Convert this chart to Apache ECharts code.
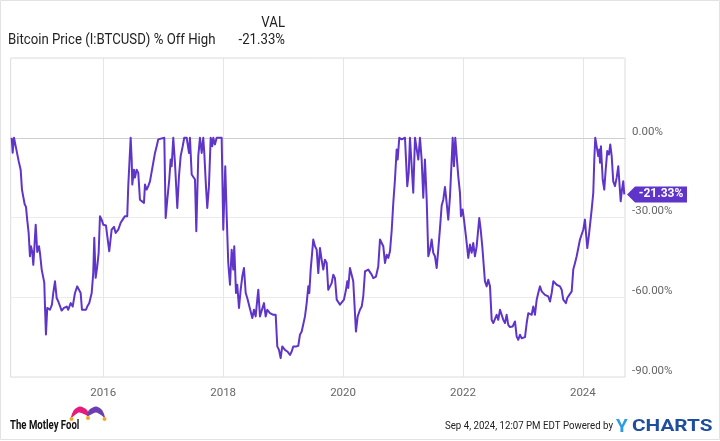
<!DOCTYPE html>
<html>
<head>
<meta charset="utf-8">
<script src="https://cdn.jsdelivr.net/npm/echarts@6/dist/echarts.min.js"></script>
<style>
html,body{margin:0;padding:0;background:#fff;}
#chart{width:720px;height:441px;}
</style>
</head>
<body>
<div id="chart"></div>
<script>
// Dates as decimal years
const dates = [
2014.472,2014.489,2014.511,2014.544,2014.566,2014.589,2014.611,2014.622,2014.644,2014.666,2014.689,2014.711,2014.732,2014.756,2014.777,2014.794,2014.816,2014.833,2014.849,2014.873,2014.899,2014.928,2014.944,2014.973,2014.999,
2015.016,2015.028,2015.044,2015.066,2015.094,2015.111,2015.144,2015.166,2015.195,2015.223,2015.250,2015.278,2015.306,2015.345,2015.390,2015.416,2015.456,2015.490,2015.528,2015.566,2015.595,2015.623,2015.645,2015.678,2015.712,2015.733,2015.767,2015.807,2015.833,2015.850,2015.873,2015.900,2015.923,2015.945,2015.973,
2016.000,2016.045,2016.067,2016.100,2016.140,2016.179,2016.207,2016.250,2016.290,2016.324,2016.362,2016.400,2016.417,2016.457,2016.474,2016.484,2016.512,2016.529,2016.557,2016.584,2016.612,2016.641,2016.679,2016.696,2016.724,2016.751,2016.779,2016.808,2016.834,2016.863,2016.891,2016.918,2016.946,
2017.018,2017.041,2017.068,2017.101,2017.124,2017.141,2017.168,2017.196,2017.235,2017.263,2017.291,2017.325,2017.351,2017.391,2017.430,2017.446,2017.475,2017.501,2017.530,2017.552,2017.585,2017.613,2017.642,2017.668,2017.685,2017.713,2017.735,2017.763,2017.792,2017.818,2017.835,2017.863,2017.892,2017.975,
2018.002,2018.035,2018.059,2018.085,2018.114,2018.142,2018.169,2018.185,2018.214,2018.235,2018.264,2018.292,2018.319,2018.347,2018.376,2018.402,2018.431,2018.459,2018.486,2018.514,2018.542,2018.569,2018.586,2018.614,2018.647,2018.681,2018.709,2018.736,2018.781,2018.809,2018.836,2018.876,2018.903,2018.931,2018.959,2018.986,
2019.031,2019.070,2019.115,2019.143,2019.170,2019.215,2019.253,2019.281,2019.310,2019.336,2019.365,2019.393,2019.420,2019.437,2019.460,2019.477,2019.503,2019.532,2019.560,2019.587,2019.615,2019.643,2019.670,2019.698,2019.727,2019.753,2019.782,2019.810,2019.837,2019.865,2019.894,2019.920,2019.949,2019.977,
2020.015,2020.049,2020.070,2020.087,2020.115,2020.144,2020.170,2020.187,2020.215,2020.244,2020.282,2020.311,2020.337,2020.366,2020.394,2020.421,2020.449,2020.477,2020.504,2020.549,2020.587,2020.616,2020.644,2020.671,2020.699,2020.728,2020.754,2020.783,2020.811,2020.838,2020.866,2020.894,2020.911,2020.938,2020.978,
2021.033,2021.071,2021.095,2021.116,2021.145,2021.171,2021.200,2021.228,2021.255,2021.283,2021.311,2021.338,2021.366,2021.395,2021.422,2021.450,2021.478,2021.505,2021.533,2021.562,2021.588,2021.617,2021.645,2021.672,2021.700,2021.728,2021.755,2021.784,2021.812,2021.829,2021.850,2021.872,2021.895,2021.922,2021.950,2021.967,2021.995,
2022.017,2022.050,2022.089,2022.117,2022.145,2022.172,2022.200,2022.229,2022.272,2022.296,2022.322,2022.339,2022.367,2022.396,2022.422,2022.451,2022.479,2022.506,2022.534,2022.562,2022.589,2022.618,2022.646,2022.673,2022.701,2022.729,2022.756,2022.784,2022.829,2022.868,2022.896,2022.923,2022.951,2022.980,
2023.006,2023.035,2023.063,2023.090,2023.118,2023.146,2023.173,2023.201,2023.230,2023.256,2023.285,2023.313,2023.340,2023.368,2023.397,2023.423,2023.452,2023.480,2023.507,2023.535,2023.563,2023.590,2023.618,2023.647,2023.673,2023.702,2023.718,2023.740,2023.774,2023.814,2023.840,2023.869,2023.897,2023.924,2023.952,2023.980,
2024.007,2024.035,2024.052,2024.074,2024.102,2024.131,2024.147,2024.174,2024.191,2024.207,2024.231,2024.257,2024.274,2024.286,2024.302,2024.331,2024.357,2024.381,2024.407,2024.436,2024.457,2024.481,2024.507,2024.536,2024.564,2024.591,2024.608,2024.631,2024.653,2024.674,2024.691
];
// Bitcoin price % off high (percent)
const pctOffHigh = [
0,-5.6,0,-3.7,-3.3,-8.8,-8.2,-12,-19.5,-20,-25,-26,-31,-36,-44.6,-40.8,-43,-47.8,-42,-32.7,-43,-40.8,-43.3,-49.6,-50.3,
-54.5,-63.5,-74,-64,-63.5,-64.7,-62.8,-58.4,-54,-60.3,-61.6,-62.2,-65,-64,-63.5,-64.7,-62.2,-63.5,-58.4,-55.9,-55.3,-58.4,-64.7,-64,-64.7,-63.5,-62.2,-58.4,-50.9,-37.6,-52.7,-48.4,-43.3,-29.5,-30.8,
-32.7,-33,-37,-42.7,-34.6,-33.5,-35.8,-34.6,-32,-30.8,-29.5,-29.5,-18.2,0,-8.2,-17.6,-12,-15,-12,-13.2,-23.3,-23.9,-24.5,-17.6,-19.5,-18.2,-16.4,-15.7,-9.4,-5.7,-3.2,-0.6,0,
0,-30.2,-23.3,-15.7,-8.2,-10.7,0,-9.4,-26.4,-14.5,-6.9,-3.2,0,0,-5.7,0,-13.8,-14.5,-15.7,-35.2,-6.9,0,-5.7,0,-5.7,-18.2,-26.4,-18.2,0,-3.2,0,-2.5,0,0,
-34.6,-10.7,-29.5,-47.1,-55.3,-42.1,-49.6,-40.8,-58.4,-55.3,-64,-57.2,-52.2,-49,-58.4,-60.3,-60.9,-65.4,-67.8,-64.7,-67.2,-60.9,-57.2,-67.2,-64.7,-62.2,-67.2,-64.7,-66,-65.4,-66.6,-66.6,-78.5,-79.8,-82.9,-78.5,
-79.8,-80.4,-81.7,-80.4,-78.5,-78.5,-78.3,-74.1,-72.9,-72.3,-67.2,-62.2,-55.9,-58.4,-49.6,-45.2,-38.3,-40.8,-42.1,-50.9,-41.5,-45.9,-49.6,-45.9,-47.1,-57.2,-57.8,-54.7,-51.5,-52.8,-60.9,-61.6,-62.8,-62.2,
-60.9,-57.2,-54,-56.5,-49,-48.4,-54,-53.4,-72.9,-67.2,-64.7,-63.5,-59.7,-50.3,-50.9,-49.6,-50.3,-51.5,-52.8,-52.2,-48.4,-38.3,-38.6,-40.8,-47.1,-44,-45.2,-42.7,-35,-24.5,-15.7,-4.4,-8.2,0,-0.6,
0,-18.2,-13.2,0,0,-20.7,0,0,-8.2,0,-8.2,-22.6,-8.2,-23.3,-44.6,-42.1,-38.3,-43.3,-44.6,-49,-42.1,-34,-25.5,-23.3,-18.5,-24.5,-30.8,-22,-8.2,0,-10.7,0,-6.9,-14.5,-20.7,-29.5,-27,
-30.8,-37.1,-45.2,-40.2,-43.3,-39.6,-44.6,-40.8,-30.2,-34.6,-40.8,-41.5,-54,-55.9,-53.4,-55.9,-68.5,-69.7,-69.1,-66.6,-68.5,-64.7,-64,-68.5,-69.7,-66.6,-70.4,-71.2,-71,-69.1,-74.8,-76,-74.1,-75.4,
-74.8,-75,-69.7,-66,-65.4,-66.6,-63.5,-66.6,-60.9,-58.4,-55.9,-57.8,-58.4,-59.1,-58.4,-59.7,-61.6,-58.4,-54,-54.7,-55.3,-55.9,-55.9,-57.2,-60.9,-60.9,-62.2,-60.3,-59.1,-57.8,-49.6,-47.1,-44.6,-44,-38.3,-36.4,
-34.6,-30.8,-35.8,-41.5,-36.4,-37.1,-27,-20.7,-8.2,0,-0.6,-6.9,-4.4,-9.4,-3.2,-15.7,-19.5,-12,-5,-6.3,-2.5,-6.9,-16.4,-18.2,-15,-10.7,-11.3,-23.9,-19.5,-16.4,-21.33
];
const xTickYears = [2016, 2018, 2020, 2022, 2024];
const yMin = -90, yMax = 30, yStep = 30;
const xMin = 2014.456, xMax = 2024.703;

const seriesName = 'Bitcoin Price (I:BTCUSD) % Off High';
const lastIdx = pctOffHigh.length - 1;
const lastVal = pctOffHigh[lastIdx];
const lastText = lastVal.toFixed(2) + '%';
const purple = '#5f35c9';

const chart = echarts.init(document.getElementById('chart'), null, {renderer: 'canvas'});
chart.setOption({
  backgroundColor: '#ffffff',
  animation: false,
  textStyle: {fontFamily: 'Roboto'},
  grid: {left: 10.7, right: 95, top: 58, bottom: 64, show: true, borderColor: '#dcdcdc', borderWidth: 1, backgroundColor: 'transparent'},
  xAxis: {
    type: 'value', min: xMin, max: xMax,
    axisLine: {show: true, lineStyle: {color: '#cfcfcf', width: 1}},
    axisTick: {show: false, customValues: xTickYears},
    axisLabel: {customValues: xTickYears, formatter: v => String(Math.round(v)), color: '#666', fontSize: 11.5, fontFamily: 'Roboto', margin: 10},
    splitLine: {show: true, lineStyle: {color: '#e6e6e6', width: 1}}
  },
  yAxis: {
    type: 'value', position: 'right', min: yMin, max: yMax, interval: yStep,
    axisLine: {show: false}, axisTick: {show: false},
    axisLabel: {formatter: v => v > 0 ? '' : v.toFixed(2) + '%', color: '#666', fontSize: 11.5, fontFamily: 'Roboto', margin: 7, verticalAlign: 'bottom', lineHeight: 12},
    splitLine: {show: true, lineStyle: {color: '#ebebeb', width: 1}}
  },
  series: [{
    name: seriesName,
    type: 'line',
    data: dates.map((d, i) => [d, pctOffHigh[i]]),
    showSymbol: false,
    lineStyle: {color: purple, width: 2, join: 'round'},
    itemStyle: {color: purple},
    z: 3,
    markPoint: {
      silent: true,
      symbol: 'path://M0,8L8,0L60,0L60,16L8,16Z',
      symbolSize: [60, 16],
      symbolKeepAspect: false,
      symbolOffset: [32.7, 0],
      itemStyle: {color: purple},
      label: {show: true, position: 'inside', offset: [4, 0], color: '#fff', fontWeight: 'bold', fontSize: 12, fontFamily: 'Roboto', formatter: lastText},
      data: [{coord: [dates[lastIdx], lastVal]}]
    }
  }],
  graphic: [
    {type: 'rect', shape: {x: 0.5, y: 0.5, width: 719, height: 439}, style: {fill: 'none', stroke: '#e2e2e2', lineWidth: 1}, silent: true},
    {type: 'text', x: 8, y: 40, scaleX: 0.88, style: {text: seriesName, x: 0, y: 0, font: '15px Roboto', fill: '#222', align: 'left', verticalAlign: 'middle'}},
    {type: 'text', x: 285, y: 23, scaleX: 0.88, style: {text: 'VAL', x: 0, y: 0, font: '15px Roboto', fill: '#222', align: 'right', verticalAlign: 'middle'}},
    {type: 'text', x: 285, y: 40, scaleX: 0.88, style: {text: lastText, x: 0, y: 0, font: '15px Roboto', fill: '#222', align: 'right', verticalAlign: 'middle'}},
    // Motley Fool logo
    {type: 'text', x: 10, y: 426, scaleX: 0.8, style: {text: 'The Motley Fool', x: 0, y: 0, font: 'bold 12px Roboto', fill: '#111', align: 'left', verticalAlign: 'middle'}},
    {type: 'polygon', shape: {smooth: 0.3, points: [[71,418],[74,410],[80,406.5],[87,410],[88.5,416],[85,414.5],[79,412.5],[75,415]]}, style: {fill: '#e8197d'}},
    {type: 'polygon', shape: {smooth: 0.3, points: [[87.5,416],[89,410],[96,406.5],[102,410],[105,418],[101,415],[96,412.5],[91,414.5]]}, style: {fill: '#6b3fb0'}},
    {type: 'circle', shape: {cx: 71.5, cy: 419, r: 2}, style: {fill: '#f5a623'}},
    {type: 'circle', shape: {cx: 88, cy: 418, r: 2}, style: {fill: '#f5a623'}},
    {type: 'circle', shape: {cx: 104.5, cy: 419, r: 2}, style: {fill: '#f5a623'}},
    // footer right
    {type: 'text', x: 613, y: 426, scaleX: 0.88, style: {text: 'Sep 4, 2024, 12:07 PM EDT Powered by', x: 0, y: 0, font: '11px Roboto', fill: '#222', align: 'right', verticalAlign: 'middle'}},
    {type: 'text', x: 616, y: 427, style: {text: 'Y', x: 0, y: 0, font: 'bold 19px Roboto', fill: '#2b9be6', align: 'left', verticalAlign: 'middle'}},
    {type: 'text', x: 632, y: 427, scaleX: 1.22, style: {text: 'CHARTS', x: 0, y: 0, font: 'bold 17px Roboto', fill: '#1d4f9e', align: 'left', verticalAlign: 'middle'}}
  ]
});
</script>
</body>
</html>
